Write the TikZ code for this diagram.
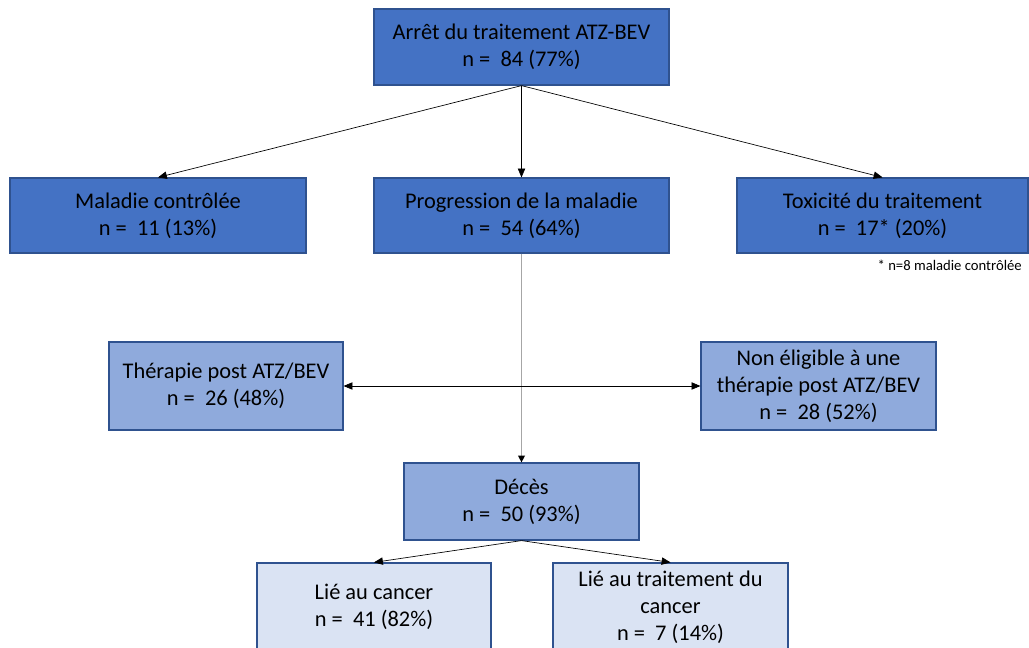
\documentclass[tikz,border=0pt]{standalone}
\usepackage{fontspec}
\setmainfont{Carlito}
\usetikzlibrary{arrows,arrows.meta}
\definecolor{bleufonce}{HTML}{4472C4}
\definecolor{bleumoyen}{HTML}{8FAADC}
\definecolor{bleuclair}{HTML}{DAE3F3}
\definecolor{bord}{HTML}{2F528F}
\definecolor{gris}{HTML}{A6A6A6}

\begin{document}
\begin{tikzpicture}[x=0.75pt,y=-0.75pt,
  boite/.style={draw=bord,line width=0.9pt,align=center,inner sep=0pt,
    font=\fontsize{16.8}{20.25}\selectfont},
  fleche/.style={-triangle 45,line width=0.5pt}]
\useasboundingbox (0,0) rectangle (1029,648);
% niveau 1
\node[boite,fill=bleufonce,minimum width=221.25pt,minimum height=57pt] (arret) at (521.5,47) {Arrêt du traitement ATZ-BEV\\n =\ \ 84 (77\%)};
% niveau 2
\node[boite,fill=bleufonce,minimum width=222pt,minimum height=56.25pt] (controlee) at (158,215.5) {Maladie contrôlée\\n =\ \ 11 (13\%)};
\node[boite,fill=bleufonce,minimum width=221.25pt,minimum height=56.25pt] (progression) at (521.5,215.5) {Progression de la maladie\\n =\ \ 54 (64\%)};
\node[boite,fill=bleufonce,minimum width=218.25pt,minimum height=56.25pt] (toxicite) at (882.5,215.5) {Toxicité du traitement\\n =\ \ 17* (20\%)};
\node[anchor=east,font=\fontsize{11}{13}\selectfont,inner sep=0pt] (note) at (1022,265) {* n=8 maladie contrôlée};
% niveau 3
\node[boite,fill=bleumoyen,minimum width=175.5pt,minimum height=66pt] (therapie) at (226,386) {Thérapie post ATZ/BEV\\n =\ \ 26 (48\%)};
\node[boite,fill=bleumoyen,minimum width=176.25pt,minimum height=66pt] (noneligible) at (818.5,386) {Non éligible à une\\thérapie post ATZ/BEV\\n =\ \ 28 (52\%)};
% niveau 4
\node[boite,fill=bleumoyen,minimum width=176.25pt,minimum height=57.75pt] (deces) at (521.5,501.5) {Décès\\n =\ \ 50 (93\%)};
% niveau 5
\node[boite,fill=bleuclair,minimum width=175.5pt,minimum height=66pt] (liecancer) at (374,607) {Lié au cancer\\n =\ \ 41 (82\%)};
\node[boite,fill=bleuclair,minimum width=176.25pt,minimum height=66pt] (lietraitement) at (670.5,607) {Lié au traitement du\\cancer\\n =\ \ 7 (14\%)};
% fleches
\draw[fleche] (arret.south) -- (controlee.north);
\draw[fleche] (arret.south) -- (progression.north);
\draw[fleche] (arret.south) -- (toxicite.north);
\draw[draw=gris,line width=0.9pt,-{Triangle[black,width=5pt,length=5pt]}] (progression.south) -- (deces.north);
\draw[fleche,triangle 45-triangle 45] (therapie.east) -- (noneligible.west);
\draw[fleche] (deces.south) -- (liecancer.north);
\draw[fleche] (deces.south) -- (lietraitement.north);
\end{tikzpicture}
\end{document}
